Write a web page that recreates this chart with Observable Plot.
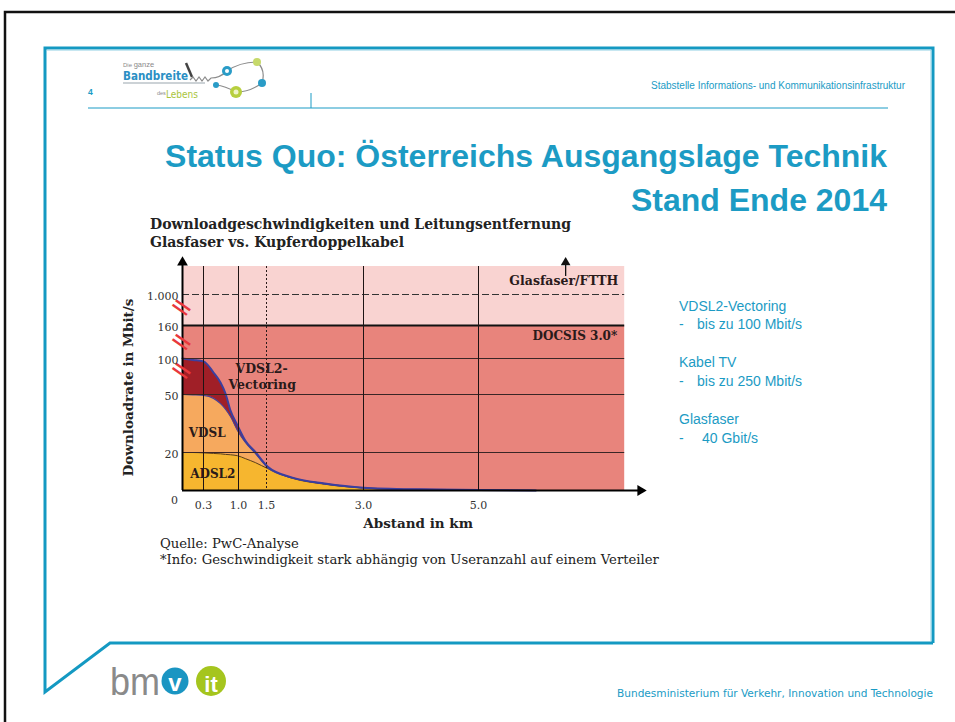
<!DOCTYPE html>
<html><head><meta charset="utf-8">
<script src="https://cdn.jsdelivr.net/npm/d3@7"></script>
<script src="https://cdn.jsdelivr.net/npm/@observablehq/plot@0.6"></script>
<style>
html,body{margin:0;padding:0;background:#fff;}
#page{position:relative;width:955px;height:722px;overflow:hidden;background:#fff;}
#deco{position:absolute;left:0;top:0;}
#chart{position:absolute;left:100px;top:250px;}
.sans{font-family:'Liberation Sans',Arial,sans-serif;}
.serif{font-family:'DejaVu Serif','Liberation Serif',serif;}
</style></head><body>
<div id="page">
<svg id="deco" width="955" height="722" xmlns="http://www.w3.org/2000/svg">
  <path d="M5,722 V12 H955" fill="none" stroke="#111" stroke-width="2.5"/>
  <path d="M933,643 V48 H45 V692 L110,643 H933" fill="none" stroke="#1499c2" stroke-width="3"/>
  <path d="M931,641 V50 H47" fill="none" stroke="#8fd0e4" stroke-width="1"/>
  <line x1="88" y1="108" x2="888" y2="108" stroke="#1a9bc5" stroke-width="1"/>
  <line x1="311" y1="93" x2="311" y2="108" stroke="#1a9bc5" stroke-width="1"/>
  <text class="sans" x="88" y="95" font-size="8.5" font-weight="bold" fill="#1a9bc5">4</text>
  <!-- logo: Die ganze Bandbreite des Lebens -->
  <text class="sans" x="123" y="67" font-size="6" fill="#8a8a8a">Die <tspan font-size="7.5">ganze</tspan></text>
  <text x="123" y="80" font-family="'DejaVu Sans Condensed','DejaVu Sans',sans-serif" font-weight="bold" font-size="12" fill="#2a8fc4" textLength="65" lengthAdjust="spacingAndGlyphs">Bandbreite</text>
  <line x1="123" y1="83" x2="205" y2="83" stroke="#9aa6ad" stroke-width="1.2"/>
  <text class="sans" x="157" y="95" font-size="5.5" fill="#8a8a8a">des</text>
  <text x="166" y="98" font-family="'DejaVu Sans Condensed','DejaVu Sans',sans-serif" font-size="11" fill="#a9c43c" textLength="32" lengthAdjust="spacingAndGlyphs">Lebens</text>
  <line x1="186" y1="63" x2="192" y2="77" stroke="#444" stroke-width="2.5"/>
  <path d="M190,80 l3,-3 l3,4 l3,-4 l3,4 l3,-4 l3,4 l3,-3 Q220,78 227,71 Q240,62 257,62 Q266,70 262,83 Q250,92 236,92 Q225,86 216,85" fill="none" stroke="#8c8c8c" stroke-width="1.2"/>
  <circle cx="227" cy="71" r="5" fill="#2a9cc7"/>
  <circle cx="227" cy="71" r="2" fill="#fff"/>
  <circle cx="257" cy="62" r="4" fill="#c6d96b"/>
  <circle cx="262" cy="83" r="4" fill="#2a9cc7"/>
  <circle cx="236" cy="92" r="6" fill="#b7cf3e"/>
  <circle cx="236" cy="92" r="2.5" fill="#eef4c8"/>
  <circle cx="216" cy="85" r="3" fill="#2a9cc7"/>
  <text class="sans" x="905" y="89" text-anchor="end" font-size="10" fill="#1a9bc5">Stabstelle Informations- und Kommunikationsinfrastruktur</text>
  <!-- slide title -->
  <text class="sans" x="887" y="167" text-anchor="end" font-size="32" font-weight="bold" fill="#1c9bc4">Status Quo: Österreichs Ausgangslage Technik</text>
  <text class="sans" x="887" y="211" text-anchor="end" font-size="32" font-weight="bold" fill="#1c9bc4">Stand Ende 2014</text>
  <!-- chart heading -->
  <text class="serif" x="150" y="229" font-size="14" font-weight="bold" fill="#222">Downloadgeschwindigkeiten und Leitungsentfernung</text>
  <text class="serif" x="150" y="247" font-size="14" font-weight="bold" fill="#222">Glasfaser vs. Kupferdoppelkabel</text>
  <!-- source -->
  <text class="serif" x="160" y="548" font-size="13.2" fill="#222">Quelle: PwC-Analyse</text>
  <text class="serif" x="160" y="564" font-size="13.2" fill="#222">*Info: Geschwindigkeit stark abhängig von Useranzahl auf einem Verteiler</text>
  <!-- right side notes -->
  <g class="sans" font-size="14" fill="#1c9bc4">
    <text x="679" y="311">VDSL2-Vectoring</text>
    <text x="679" y="329">-</text><text x="697" y="329">bis zu 100 Mbit/s</text>
    <text x="679" y="367">Kabel TV</text>
    <text x="679" y="386">-</text><text x="697" y="386">bis zu 250 Mbit/s</text>
    <text x="679" y="424">Glasfaser</text>
    <text x="679" y="443">-</text><text x="702" y="443">40 Gbit/s</text>
  </g>
  <!-- footer logo bmvit -->
  <text class="sans" x="110" y="695" font-size="38" fill="#8a8a8a" textLength="50" lengthAdjust="spacingAndGlyphs">bm</text>
  <circle cx="175" cy="681" r="13.5" fill="#1a95c2"/>
  <text class="sans" x="175" y="691" text-anchor="middle" font-size="24" font-weight="bold" fill="#fff">v</text>
  <circle cx="211" cy="681" r="15" fill="#a5c51e"/>
  <text class="sans" x="211" y="692" text-anchor="middle" font-size="22" font-weight="bold" fill="#fff">it</text>
  <text x="933" y="697" text-anchor="end" font-family="'DejaVu Sans Condensed','DejaVu Sans',sans-serif" font-size="10.5" fill="#1a9bc5" textLength="316" lengthAdjust="spacingAndGlyphs">Bundesministerium für Verkehr, Innovation und Technologie</text>
</svg>
<div id="chart"></div>
</div>
<script>
// ---- data (distance in km, download rate in Mbit/s)
const distanceKm    = [0, 0.15, 0.3, 0.5, 0.64, 0.74, 0.84, 0.98, 1.12, 1.3, 1.52, 1.9, 2.4, 3.0, 4.0, 5.0, 6.0];
const vectoringMbit = [100, 98, 96, 80.5, 66.7, 51.4, 41.7, 34, 26.2, 20.3, 12.5, 6.8, 3.7, 1.5, 0.6, 0.3, 0];
const vdslMbit      = [50, 49.8, 49.5, 48, 45.3, 42.4, 38.6, 31.4, 25.3, 19.5, 12, 6.6, 3.5, 1.4, 0.5, 0.2, 0];
const adsl2Mbit     = [20, 20, 19.8, 19.5, 19.3, 19, 18.8, 18.3, 16.8, 14.7, 11.5, 6.4, 3.3, 1.3, 0.4, 0.1, 0];

const xTickValues = [0.3, 1.0, 1.5, 3.0, 5.0];
const xTickLabels = ["0.3", "1.0", "1.5", "3.0", "5.0"];
const yTickValues = [20, 50, 100, 160, 1000];
const yTickLabels = ["20", "50", "100", "160", "1.000"];
const solidXGrid  = [0.3, 1.0, 3.0, 5.0];
const dashedXGrid = [1.5];
const thinYGrid   = [20, 50, 100];
const axisBreaks  = [650, 130, 83];

const bandLower = [0, 160];
const bandUpper = [160, 10000];
const bandColors = ["#e8847c", "#f9d3d1"];

const techLabels = ["Glasfaser/FTTH", "DOCSIS 3.0*"];
const areaLabels = ["VDSL2-", "Vectoring", "VDSL", "ADSL2"];

// ---- layout (scales are piecewise like the broken axes of the original)
const OX = 100, OY = 250;
const xDomain = [0, 0.3, 1, 1.5, 3, 5, 8];
const xRange  = [182, 203, 238, 266, 363, 478, 650].map(v => v - OX);
const yDomain = [0, 20, 50, 100, 160, 1000, 10000];
const yRange  = [490, 452, 394, 358, 325, 294, 266].map(v => v - OY);
const X_END = 7.55, Y_TOP = 10000;

const serif = "'DejaVu Serif','Liberation Serif',serif";
const curve = "monotone-x";
const rows = distanceKm.map((km, i) => ({km, vect: vectoringMbit[i], vdsl: vdslMbit[i], adsl: adsl2Mbit[i]}));
const bands = bandLower.map((lo, i) => ({lo, hi: bandUpper[i], i}));

const labelFont = {fontFamily: serif, fontWeight: "bold", fill: "#2a1a1a"};

const chart = Plot.plot({
  width: 560, height: 290, margin: 0,
  style: {background: "transparent", overflow: "visible"},
  x: {type: "linear", domain: xDomain, range: xRange, axis: null},
  y: {type: "linear", domain: yDomain, range: yRange, axis: null},
  color: {type: "identity"},
  marks: [
    Plot.rect(bands, {x1: 0, x2: X_END, y1: "lo", y2: "hi", fill: d => bandColors[d.i]}),
    Plot.area(rows, {x1: "km", y1: 0, y2: "vect", fill: "#a01f27", curve}),
    Plot.area(rows, {x1: "km", y1: 0, y2: "vdsl", fill: "#f6a95e", curve}),
    Plot.area(rows, {x1: "km", y1: 0, y2: "adsl", fill: "#f6b62f", curve}),
    Plot.line(rows, {x: "km", y: "adsl", stroke: "#5a3d1e", strokeWidth: 1, curve}),
    Plot.line(rows, {x: "km", y: "vdsl", stroke: "#4a3f95", strokeWidth: 1.2, curve}),
    Plot.line(rows, {x: "km", y: "vect", stroke: "#3a3fa0", strokeWidth: 2, curve}),
    // grid
    Plot.ruleY(thinYGrid, {x1: 0, x2: X_END, stroke: "#3a2626", strokeWidth: 1}),
    Plot.ruleY([160], {x1: 0, x2: X_END, stroke: "#111", strokeWidth: 2}),
    Plot.ruleY([1000], {x1: 0, x2: X_END, stroke: "#333", strokeWidth: 1, strokeDasharray: "7,3"}),
    Plot.ruleX(solidXGrid, {y1: Y_TOP, y2: 0, stroke: "#1e1414", strokeWidth: 1}),
    Plot.ruleX(dashedXGrid, {y1: Y_TOP, y2: 0, stroke: "#2a1a1a", strokeWidth: 1, strokeDasharray: "2,2"}),
    // axes with arrows
    Plot.ruleY([0], {x1: 0, x2: 8, insetRight: 8, stroke: "#000", strokeWidth: 2}),
    Plot.dot([0], {x: 8, y: 0, dx: -10, symbol: "triangle", rotate: 90, r: 4, fill: "#000", stroke: null}),
    Plot.ruleX([0], {y1: Y_TOP, y2: 0, insetTop: -4, stroke: "#000", strokeWidth: 2}),
    Plot.dot([0], {x: 0, y: Y_TOP, dy: -4, symbol: "triangle", r: 4, fill: "#000", stroke: null}),
    // arrow above Glasfaser/FTTH
    Plot.ruleX([6.52], {y1: Y_TOP, y2: 1000, insetTop: -4, insetBottom: 18, stroke: "#111", strokeWidth: 1.3}),
    Plot.dot([0], {x: 6.52, y: Y_TOP, dy: -4, symbol: "triangle", r: 3.6, fill: "#111", stroke: null}),
    // axis break marks
    Plot.text(axisBreaks, {x: 0, y: Plot.identity, text: () => "=", rotate: 35, fill: "#e8383d", fontSize: 28, fontFamily: "'DejaVu Sans',sans-serif", lineAnchor: "middle", dx: -1}),
    // tick labels
    Plot.text(yTickValues, {x: 0, y: Plot.identity, text: (d, i) => yTickLabels[i], textAnchor: "end", lineAnchor: "middle", dx: -4, dy: 2, fontFamily: serif, fontSize: 11, fill: "#333"}),
    Plot.text(xTickValues, {x: Plot.identity, y: 0, text: (d, i) => xTickLabels[i], lineAnchor: "middle", dy: 15, fontFamily: serif, fontSize: 11, fill: "#333"}),
    Plot.text(["0"], {x: 0, y: 0, lineAnchor: "middle", dx: -8, dy: 10, fontFamily: serif, fontSize: 11, fill: "#333"}),
    // axis titles
    Plot.text(["Abstand in km"], {x: 3.95, frameAnchor: "bottom", lineAnchor: "bottom", dy: -13, fontSize: 13.5, ...labelFont, fill: "#222"}),
    Plot.text(["Downloadrate in Mbit/s"], {frameAnchor: "left", textAnchor: "middle", dx: 28, dy: -8, rotate: -90, lineAnchor: "middle", fontSize: 13.5, ...labelFont, fill: "#222"}),
    // technology labels
    Plot.text([techLabels[0]], {x: 7.44, y: 1000, dy: -10, textAnchor: "end", lineAnchor: "bottom", fontSize: 12.5, ...labelFont}),
    Plot.text([techLabels[1]], {x: 7.42, y: 160, dy: 14, textAnchor: "end", lineAnchor: "bottom", fontSize: 12, ...labelFont}),
    Plot.text([areaLabels[0]], {x: 0.94, y: 100, dy: 14, textAnchor: "start", lineAnchor: "bottom", fontSize: 12.5, ...labelFont}),
    Plot.text([areaLabels[1]], {x: 0.8, y: 50, dy: -6, textAnchor: "start", lineAnchor: "bottom", fontSize: 12.5, ...labelFont}),
    Plot.text([areaLabels[2]], {x: 0.09, y: 20, dy: -16, textAnchor: "start", lineAnchor: "bottom", fontSize: 12, ...labelFont}),
    Plot.text([areaLabels[3]], {x: 0.11, y: 0, dy: -13, textAnchor: "start", lineAnchor: "bottom", fontSize: 12, ...labelFont})
  ]
});
document.getElementById("chart").appendChild(chart);
</script>
</body></html>
